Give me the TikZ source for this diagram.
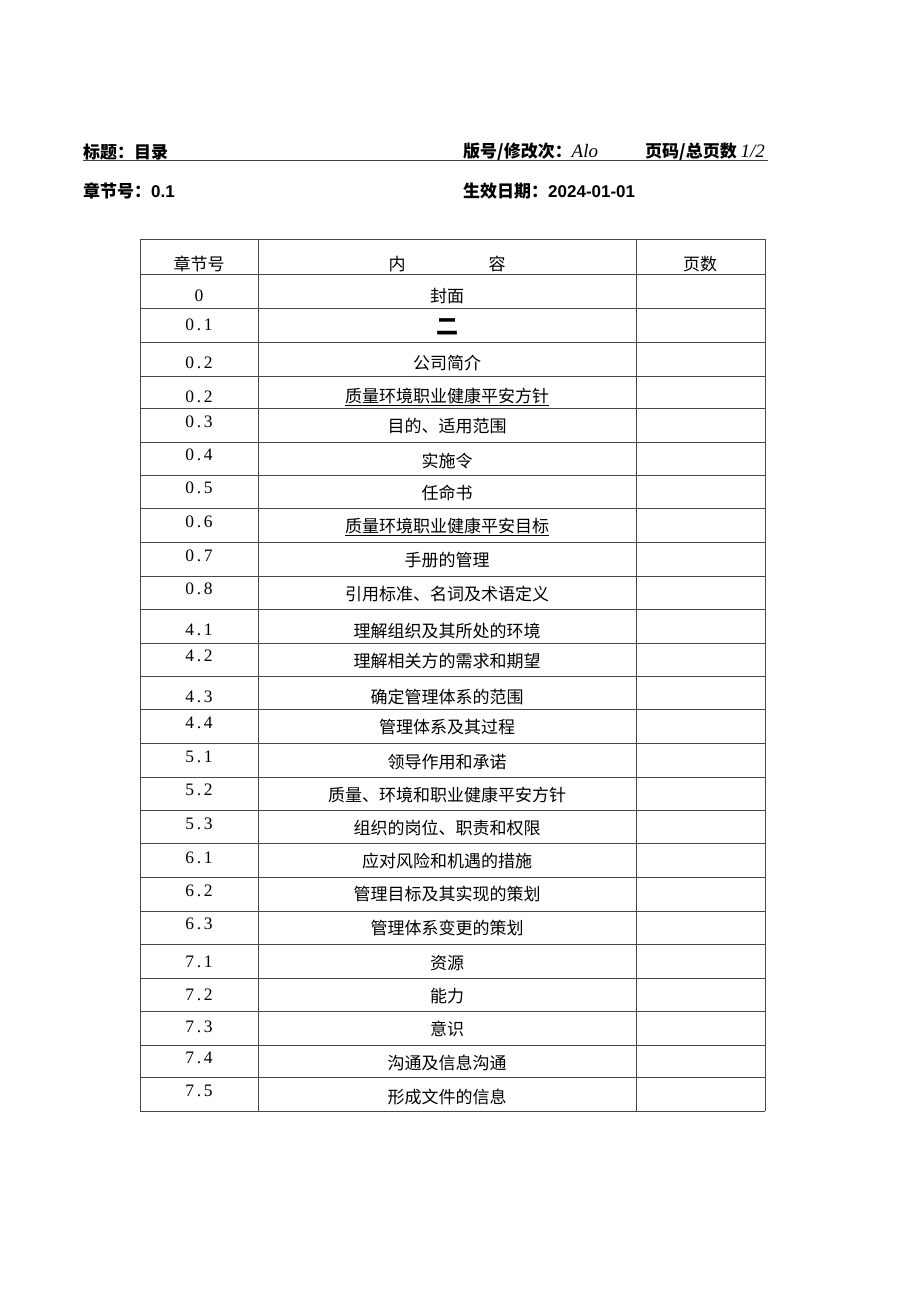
\documentclass[tikz,border=0pt]{standalone}
\usepackage{fontspec}
\newfontfamily\cjk{Noto Sans CJK SC}
\newfontfamily\numfont[LetterSpace=16]{Liberation Serif}
\newfontfamily\arialfont{Liberation Sans}
\newfontfamily\timesfont{Liberation Serif}
\begin{document}
\begin{tikzpicture}[x=1pt,y=-1pt,
  grid/.style={draw=black!72,line width=0.9pt},
  hdr/.style={anchor=west,inner sep=0pt,font=\fontsize{17}{17}\selectfont\cjk\bfseries},
  num/.style={anchor=center,inner sep=0pt,font=\fontsize{17.5}{17.5}\selectfont\numfont},
  txt/.style={anchor=center,inner sep=0pt,font=\fontsize{17}{17}\selectfont\cjk}]
\useasboundingbox[fill=white] (0,0) rectangle (920,1301);

% page header
\node[hdr] (title) at (83,152) {标题：目录};
\node[hdr] (ver) at (463,152) {版号/修改次：\textmd{\fontsize{19}{19}\selectfont\timesfont\itshape Alo}};
\node[hdr] (pg) at (645,152) {页码/总页数 \textmd{\fontsize{19}{19}\selectfont\timesfont\itshape 1/2}};
\coordinate (ulA) at (83,160.5);
\coordinate (ulB) at (768,160.5);
\draw[black!75,line width=0.9pt] (ulA) -- (ulB);
\node[hdr] (chap) at (83,191) {章节号：{\arialfont\bfseries 0.1}};
\node[hdr] (date) at (463,191) {生效日期：{\arialfont\bfseries 2024-01-01}};

% table grid
\foreach \y in {239,274,308,342,376,408,442,475,508,542,576,609,643,676,709,743,777,810,843,877,911,944,978,1011,1045,1077,1111}
  \draw[grid] (140,\y) -- (765,\y);
\foreach \x in {140,258.5,636,765}
  \draw[grid] (\x,239) -- (\x,1111);

% header row
\node[txt] (h1) at (199,264) {章节号};
\node[txt] (h2a) at (397,264) {内};
\node[txt] (h2b) at (497,264) {容};
\node[txt] (h3) at (700,264) {页数};

% rows
\foreach \i/\n/\ny/\t/\ty in {
 1/0/296/封面/296,
 2/0.1/325/{\fontsize{22}{22}\selectfont\bfseries 二}/327,
 3/0.2/363/公司简介/363,
 4/0.2/397/{\underline{质量环境职业健康平安方针}}/397,
 5/0.3/422/目的、适用范围/426,
 6/0.4/455/实施令/461,
 7/0.5/488/任命书/493,
 8/0.6/522/{\underline{质量环境职业健康平安目标}}/527,
 9/0.7/556/手册的管理/560,
 10/0.8/589/引用标准、名词及术语定义/594,
 11/4.1/630/理解组织及其所处的环境/631,
 12/4.2/656/理解相关方的需求和期望/661,
 13/4.3/697/确定管理体系的范围/697,
 14/4.4/723/管理体系及其过程/727,
 15/5.1/757/领导作用和承诺/762,
 16/5.2/790/质量、环境和职业健康平安方针/795,
 17/5.3/824/组织的岗位、职责和权限/828,
 18/6.1/858/应对风险和机遇的措施/861,
 19/6.2/891/管理目标及其实现的策划/894,
 20/6.3/924/管理体系变更的策划/928,
 21/7.1/962/资源/963,
 22/7.2/995/能力/996,
 23/7.3/1027/意识/1029,
 24/7.4/1058/沟通及信息沟通/1063,
 25/7.5/1091/形成文件的信息/1097}
{
  \node[num] (n\i) at (199,\ny) {\n};
  \node[txt] (c\i) at (447,\ty) {\t};
}
\end{tikzpicture}
\end{document}
